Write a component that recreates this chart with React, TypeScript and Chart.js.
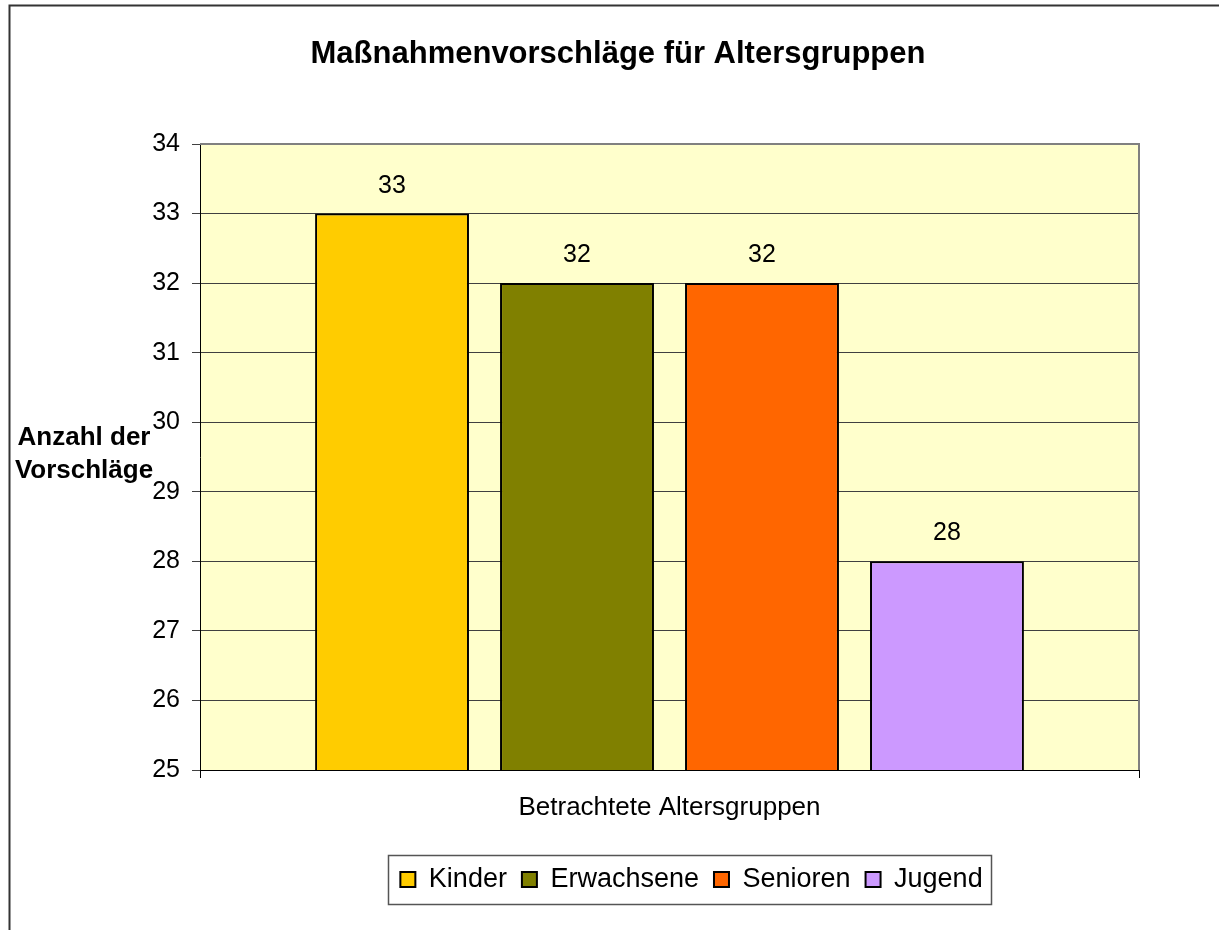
import React, { useEffect, useRef } from "react";
import { Chart, registerables } from "chart.js";

Chart.register(...registerables);

const chartTitle = "Maßnahmenvorschläge für Altersgruppen";
const yAxisTitleLines = ["Anzahl der", "Vorschläge"];
const xAxisTitle = "Betrachtete Altersgruppen";
const categoryLabels = ["Altersgruppen"];
const seriesNames = ["Kinder", "Erwachsene", "Senioren", "Jugend"];
const seriesValues = [33, 32, 32, 28];
const seriesColors = ["#FFCC00", "#808000", "#FF6600", "#CC99FF"];
const yMin = 25;
const yMax = 34;
const yStep = 1;

const FONT = "'Liberation Sans', Arial, sans-serif";

const customPlugin = {
  id: "customDecor",
  afterLayout(chart: any) {
    const lg = chart.legend;
    if (lg) {
      const shift = 122;
      lg.left += shift;
      lg.right += shift;
    }
  },
  beforeDraw(chart: any) {
    const { ctx, chartArea } = chart;
    ctx.save();
    ctx.fillStyle = "#FFFFFF";
    ctx.fillRect(0, 0, chart.width, chart.height);
    ctx.strokeStyle = "#333333";
    ctx.lineWidth = 2;
    ctx.beginPath();
    ctx.moveTo(9.5, chart.height + 5);
    ctx.lineTo(9.5, 5.5);
    ctx.lineTo(chart.width + 5, 5.5);
    ctx.stroke();
    ctx.fillStyle = "#FFFFCC";
    ctx.fillRect(chartArea.left, chartArea.top, chartArea.right - chartArea.left, chartArea.bottom - chartArea.top);
    ctx.restore();
  },
  beforeDatasetsDraw(chart: any) {
    const { ctx, chartArea } = chart;
    ctx.save();
    ctx.strokeStyle = "#808080";
    ctx.lineWidth = 2;
    ctx.beginPath();
    ctx.moveTo(chartArea.left, chartArea.top);
    ctx.lineTo(chartArea.right, chartArea.top);
    ctx.lineTo(chartArea.right, chartArea.bottom);
    ctx.stroke();
    ctx.restore();
  },
  afterDraw(chart: any) {
    const { ctx, chartArea } = chart;
    ctx.save();
    ctx.fillStyle = "#000000";
    // Title
    ctx.font = `bold 31px ${FONT}`;
    ctx.textAlign = "center";
    ctx.textBaseline = "alphabetic";
    ctx.fillText(chartTitle, 618, 63);
    // y axis title
    ctx.font = `bold 26px ${FONT}`;
    ctx.fillText(yAxisTitleLines[0], 84, 445);
    ctx.fillText(yAxisTitleLines[1], 84, 478);
    // x axis title
    ctx.font = `26px ${FONT}`;
    ctx.fillText(xAxisTitle, (chartArea.left + chartArea.right) / 2, 815);
    // data labels
    ctx.font = `25px ${FONT}`;
    chart.data.datasets.forEach((ds: any, i: number) => {
      const meta = chart.getDatasetMeta(i);
      meta.data.forEach((el: any, j: number) => {
        ctx.fillText(String(ds.data[j]), el.x, el.y - 21);
      });
    });
    // legend frame
    const lg = chart.legend;
    if (lg && lg.legendHitBoxes && lg.legendHitBoxes.length) {
      const hb = lg.legendHitBoxes;
      const first = hb[0];
      const last = hb[hb.length - 1];
      const left = first.left - 12;
      const right = last.left + last.width + 9;
      const top = first.top - 11;
      const bottom = first.top + 38;
      ctx.strokeStyle = "#555555";
      ctx.lineWidth = 1.5;
      ctx.strokeRect(Math.round(left) + 0.5, Math.round(top) + 0.5, Math.round(right - left), Math.round(bottom - top));
    }
    ctx.restore();
  },
};

export default function App() {
  const canvasRef = useRef<HTMLCanvasElement | null>(null);

  useEffect(() => {
    if (!canvasRef.current) return;
    const datasets = seriesNames.map((name, i) => ({
      label: name,
      data: [seriesValues[i]],
      backgroundColor: seriesColors[i],
      borderColor: "#000000",
      borderWidth: 2,
      categoryPercentage: 0.788,
      barPercentage: 0.832,
    }));
    const chart = new Chart(canvasRef.current, {
      type: "bar",
      data: { labels: categoryLabels, datasets },
      options: {
        responsive: false,
        animation: false,
        devicePixelRatio: 1,
        layout: { padding: { top: 144, right: 80, left: 0, bottom: 27 } },
        plugins: {
          tooltip: { enabled: false },
          title: { display: false },
          legend: {
            display: true,
            position: "bottom",
            labels: {
              color: "#000000",
              font: { family: FONT, size: 27 },
              boxWidth: 15,
              boxHeight: 15,
              padding: 15,
            },
          },
        },
        scales: {
          x: {
            type: "category",
            offset: true,
            ticks: { display: false },
            grid: {
              display: true,
              drawOnChartArea: false,
              drawTicks: true,
              tickLength: 8,
              color: "#000000",
              tickColor: "#000000",
            },
            border: { display: true, color: "#000000", width: 1 },
            afterFit: (scale: any) => {
              scale.height = 81;
            },
          },
          y: {
            type: "linear",
            min: yMin,
            max: yMax,
            ticks: {
              stepSize: yStep,
              color: "#000000",
              font: { family: FONT, size: 25 },
              padding: 12,
            },
            grid: {
              display: true,
              color: "#404040",
              lineWidth: 1,
              tickLength: 8,
              tickColor: "#404040",
            },
            border: { display: true, color: "#000000", width: 1 },
            afterFit: (scale: any) => {
              scale.width = 200;
            },
          },
        },
      },
      plugins: [customPlugin],
    });
    return () => chart.destroy();
  }, []);

  return (
    <div style={{ position: "absolute", left: 0, top: 0, width: 1219, height: 930 }}>
      <canvas ref={canvasRef} width={1219} height={930} style={{ display: "block", width: 1219, height: 930 }} />
    </div>
  );
}
